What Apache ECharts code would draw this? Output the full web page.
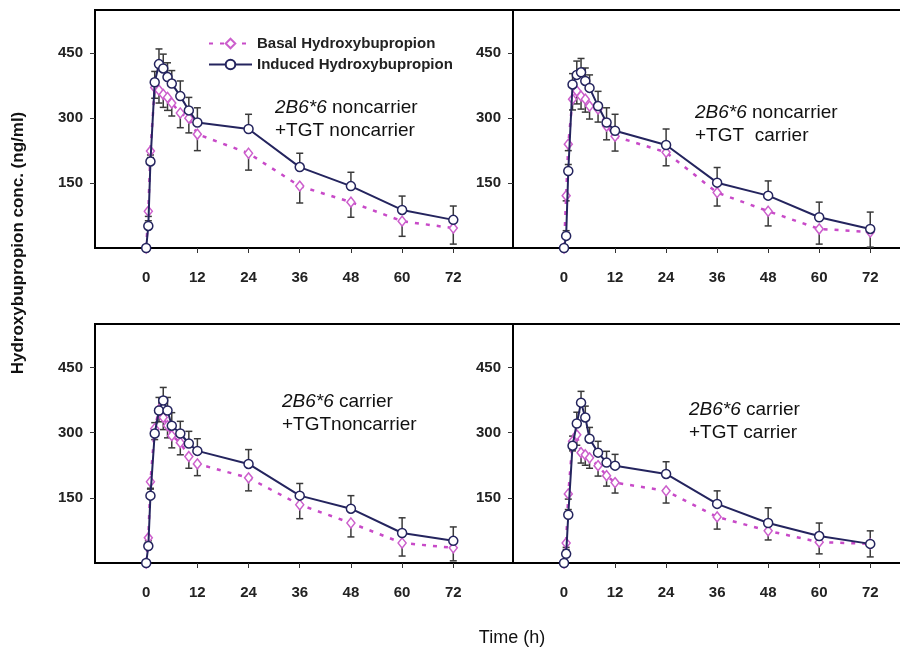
<!DOCTYPE html>
<html>
<head>
<meta charset="utf-8">
<script src="https://cdn.jsdelivr.net/npm/echarts@6/dist/echarts.min.js"></script>
<style>html,body{margin:0;background:#fff}#main{width:900px;height:651px}</style>
</head>
<body>
<div id="main"></div>
<script>
// sampling times (h)
var hours = [0, 0.5, 1, 2, 3, 4, 5, 6, 8, 10, 12, 24, 36, 48, 60, 72];
var xTicks = [0, 12, 24, 36, 48, 60, 72];
var yTicks = [150, 300, 450];

// panel captions: [italic gene, rest of line 1, line 2]
var captions = [
	['2B6*6', ' noncarrier', '+TGT noncarrier'],
	['2B6*6', ' noncarrier', '+TGT  carrier'],
	['2B6*6', ' carrier', '+TGTnoncarrier'],
	['2B6*6', ' carrier', '+TGT carrier']
];

// panel 1: 2B6*6 noncarrier + TGT noncarrier
var basal1 = [0, 85, 224, 371, 365, 355, 348, 335, 312, 300, 263, 219, 143, 106, 62, 46];
var basalErr1 = [0, 12, 15, 25, 30, 30, 30, 30, 34, 34, 38, 39, 39, 35, 35, 37];
var induced1 = [0, 51, 200, 383, 425, 415, 395, 380, 351, 318, 290, 275, 187, 143, 88, 65];
var inducedErr1 = [0, 12, 15, 25, 35, 33, 33, 30, 35, 30, 34, 34, 32, 32, 32, 32];

// panel 2: 2B6*6 noncarrier + TGT carrier
var basal2 = [0, 121, 240, 344, 363, 351, 344, 328, 321, 282, 258, 221, 128, 85, 44, 37];
var basalErr2 = [0, 12, 15, 25, 30, 30, 30, 30, 30, 32, 34, 31, 31, 34, 35, 35];
var induced2 = [0, 28, 178, 378, 400, 406, 386, 370, 328, 290, 271, 238, 151, 121, 71, 44];
var inducedErr2 = [0, 12, 15, 25, 32, 32, 30, 30, 34, 34, 38, 37, 35, 34, 35, 39];

// panel 3: 2B6*6 carrier + TGT noncarrier
var basal3 = [0, 58, 187, 309, 353, 335, 316, 293, 277, 245, 228, 196, 134, 92, 46, 35];
var basalErr3 = [0, 12, 15, 25, 28, 28, 28, 28, 28, 27, 27, 30, 32, 32, 30, 30];
var induced3 = [0, 39, 155, 298, 351, 374, 351, 316, 298, 275, 258, 228, 155, 125, 69, 51];
var inducedErr3 = [0, 12, 15, 25, 30, 30, 30, 30, 28, 28, 28, 33, 28, 30, 35, 32];

// panel 4: 2B6*6 carrier + TGT carrier
var basal4 = [0, 46, 159, 280, 295, 254, 249, 242, 224, 201, 185, 166, 106, 74, 48, 44];
var basalErr4 = [0, 10, 12, 22, 24, 24, 24, 24, 24, 24, 24, 28, 28, 21, 27, 30];
var induced4 = [0, 21, 111, 270, 321, 369, 335, 286, 254, 231, 224, 205, 136, 92, 62, 44];
var inducedErr4 = [0, 10, 12, 22, 26, 26, 26, 26, 26, 26, 26, 28, 30, 35, 30, 30];

var panels = [
	[basal1, basalErr1, induced1, inducedErr1],
	[basal2, basalErr2, induced2, inducedErr2],
	[basal3, basalErr3, induced3, inducedErr3],
	[basal4, basalErr4, induced4, inducedErr4]
];

var FONT = '"Liberation Sans", Arial, sans-serif';
// right-hand panels run off the page edge (no right border), like the cropped original
var gridBoxes = [
	{left: 95, top: 10, width: 418, height: 238},
	{left: 513, top: 10, right: 0, height: 238},
	{left: 95, top: 324, width: 418, height: 239},
	{left: 513, top: 324, right: 0, height: 239}
];
var xMax = [86, 79, 86, 79];
var openRight = [false, true, false, true];

function errSeries(gi, vals, errs, dir) {
	return {
		type: 'custom',
		xAxisIndex: gi,
		yAxisIndex: gi,
		silent: true,
		z: 1,
		data: hours.map(function(h, i) { return [h, vals[i], vals[i] + dir * errs[i]]; }),
		renderItem: function(params, api) {
			if (api.value(1) === api.value(2)) return null;
			var a = api.coord([api.value(0), api.value(1)]);
			var b = api.coord([api.value(0), api.value(2)]);
			var st = {stroke: '#3a3a3a', lineWidth: 1.5};
			return {
				type: 'group',
				children: [
					{type: 'line', shape: {x1: a[0], y1: a[1], x2: b[0], y2: b[1]}, style: st},
					{type: 'line', shape: {x1: b[0] - 3.5, y1: b[1], x2: b[0] + 3.5, y2: b[1]}, style: st}
				]
			};
		}
	};
}

var grids = [], xAxes = [], yAxes = [], series = [], titles = [], topAxes = [];
var captionPos = [[275, 96], [695, 101], [282, 390], [689, 398]];

panels.forEach(function(p, gi) {
	grids.push(Object.assign({show: !openRight[gi], borderColor: '#000', borderWidth: 2, backgroundColor: 'transparent'}, gridBoxes[gi]));
	xAxes.push({
		type: 'value', gridIndex: gi, min: -12, max: xMax[gi], interval: 12,
		axisLine: {onZero: false, lineStyle: {color: '#000', width: 2}},
		axisTick: {customValues: xTicks, length: 5, lineStyle: {color: '#333'}},
		axisLabel: {customValues: xTicks, margin: 22, fontSize: 15, fontWeight: 'bold', color: '#222', fontFamily: FONT},
		splitLine: {show: false}
	});
	if (openRight[gi]) {
		// top frame line only
		topAxes.push({
			type: 'value', gridIndex: gi, position: 'top', min: -12, max: xMax[gi], interval: 12,
			axisLine: {onZero: false, lineStyle: {color: '#000', width: 2}},
			axisTick: {show: false}, axisLabel: {show: false}, splitLine: {show: false}
		});
	}
	yAxes.push({
		type: 'value', gridIndex: gi, min: 0, max: 550, interval: 150,
		axisLine: {show: true, onZero: false, lineStyle: {color: '#000', width: 2}},
		axisTick: {customValues: yTicks, length: 5, lineStyle: {color: '#333'}},
		axisLabel: {customValues: yTicks, margin: 12, fontSize: 15, fontWeight: 'bold', color: '#222', fontFamily: FONT},
		splitLine: {show: false}
	});
	series.push(errSeries(gi, p[0], p[1], -1));
	series.push(errSeries(gi, p[2], p[3], 1));
	series.push({
		name: 'Basal Hydroxybupropion', type: 'line', xAxisIndex: gi, yAxisIndex: gi,
		data: hours.map(function(h, i) { return [h, p[0][i]]; }),
		symbol: 'diamond', symbolSize: [8, 10], z: 3,
		itemStyle: {color: '#fff', borderColor: '#cc5fcc', borderWidth: 1.5},
		lineStyle: {color: '#c84ac8', width: 2.5, type: [4, 7]}
	});
	series.push({
		name: 'Induced Hydroxybupropion', type: 'line', xAxisIndex: gi, yAxisIndex: gi,
		data: hours.map(function(h, i) { return [h, p[2][i]]; }),
		symbol: 'circle', symbolSize: 9, z: 4,
		itemStyle: {color: '#fff', borderColor: '#24245e', borderWidth: 1.5},
		lineStyle: {color: '#24245e', width: 2}
	});
	var c = captions[gi];
	titles.push({
		left: captionPos[gi][0], top: captionPos[gi][1], padding: 0,
		text: '{i|' + c[0] + '}{n|' + c[1] + '}\n{n|' + c[2] + '}',
		textStyle: {
			fontFamily: FONT, fontSize: 19, fontWeight: 'normal', color: '#111',
			rich: {
				i: {fontStyle: 'italic', fontSize: 19, lineHeight: 23, color: '#111', fontFamily: FONT},
				n: {fontSize: 19, lineHeight: 23, color: '#111', fontFamily: FONT}
			}
		}
	});
});

var chart = echarts.init(document.getElementById('main'));
chart.setOption({
	animation: false,
	title: titles,
	legend: {
		left: 203, top: 31, orient: 'vertical', itemWidth: 43, itemHeight: 12, itemGap: 6,
		data: ['Basal Hydroxybupropion', 'Induced Hydroxybupropion'],
		textStyle: {fontSize: 15, fontWeight: 'bold', color: '#222', fontFamily: FONT}
	},
	grid: grids,
	xAxis: xAxes.concat(topAxes),
	yAxis: yAxes,
	series: series,
	graphic: [
		{type: 'text', x: 18, y: 243, rotation: Math.PI / 2,
			style: {text: 'Hydroxybupropion conc. (ng/ml)', align: 'center', verticalAlign: 'middle',
				font: 'bold 17px "Liberation Sans", Arial, sans-serif', fill: '#111'}},
		{type: 'text', x: 512, y: 638,
			style: {text: 'Time (h)', align: 'center', verticalAlign: 'middle',
				font: '18px "Liberation Sans", Arial, sans-serif', fill: '#111'}}
	]
});
</script>
</body>
</html>
